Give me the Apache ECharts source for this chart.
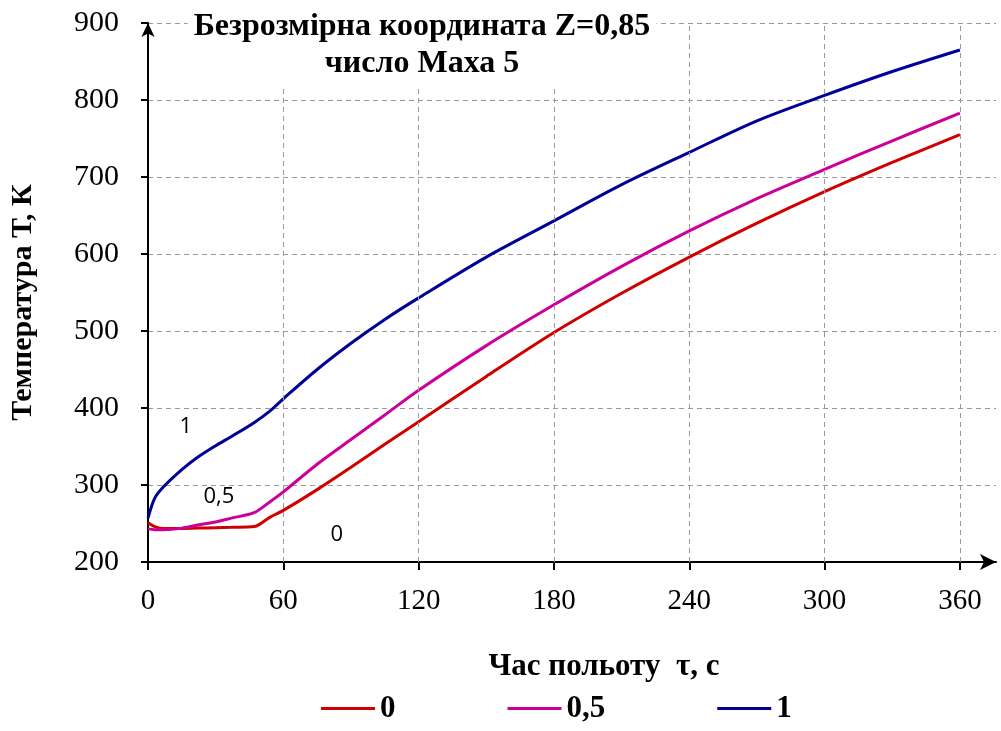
<!DOCTYPE html>
<html><head><meta charset="utf-8">
<script src="https://cdn.jsdelivr.net/npm/echarts@6/dist/echarts.min.js"></script>
<style>html,body{margin:0;padding:0;background:#fff}#c{width:1001px;height:731px}</style>
</head><body><div id="c"></div>
<script>
const timeSec = [0,3,7,15,22,30,37,47,54,60,75,90,105,120,150,180,210,240,270,300,330,360];
const seriesNames = ['0','0,5','1'];
const temp0  = [251,246,243.5,243.5,244,244.5,245,246,258,267,294,323,353,382,441,498,549,596,640,681,719,755];
const temp05 = [243,242,242,244,248,252,257,264,278,291,327,359,391,423,481,534,584,630,672,710,747,783];
const temp1  = [257,283,298,320,336,351,363,381,396,412,450,484,515,543,596,643,690,732,773,806,837,865];
const xTicks = [0,60,120,180,240,300,360];
const annotations = [
  {text:'1', t:16.8, T:376},
  {text:'0,5', t:31.4, T:285},
  {text:'0', t:83.7, T:235}
];
const titleText = 'Безрозмірна координата Z=0,85\nчисло Маха 5';
const xName = 'Час польоту  τ, с';
const yName = 'Температура Т, К';

const colors = ['#d00000','#cc0099','#000099'];
const serif = '"Liberation Serif","Times New Roman",serif';
const toPairs = arr => timeSec.map((t,i)=>[t,arr[i]]);
const allData = [temp0, temp05, temp1];

const series = allData.map((arr,i)=>({
  name: seriesNames[i], type:'line', data: toPairs(arr), symbol:'none',
  smooth:0.3,
  lineStyle:{color:colors[i], width:3}, itemStyle:{color:colors[i]}, z:3
}));
series.push({
  type:'line', data:[], silent:true, z:1,
  markLine:{silent:true, symbol:'none', label:{show:false},
    lineStyle:{color:'#9a9a9a', type:[5,4], width:1},
    data: xTicks.slice(1).map(v=>({xAxis:v}))},
  markPoint:{symbol:'circle', symbolSize:0, silent:true,
    label:{show:true, color:'#000', fontSize:22, fontFamily:'"Open Sans",sans-serif', formatter:p=>p.name},
    data: annotations.map(a=>({name:a.text, coord:[a.t,a.T]}))}
});

const chart = echarts.init(document.getElementById('c'));
chart.setOption({
  animation:false,
  title:{text:titleText, left:416, top:6, textAlign:'center',
    backgroundColor:'#fff', padding:[2,6,6,6], z:10,
    textStyle:{fontFamily:serif, fontWeight:'bold', fontSize:32, color:'#000', lineHeight:37}},
  legend:{left:316, bottom:2, itemGap:112, itemWidth:54, itemHeight:3, icon:'rect',
    textStyle:{fontFamily:serif, fontWeight:'bold', fontSize:31, color:'#000'},
    data:seriesNames},
  grid:{left:147, right:5, top:23, bottom:169},
  xAxis:{type:'value', min:0, max:376, interval:60,
    name:xName, nameLocation:'middle', nameGap:89,
    nameTextStyle:{fontFamily:serif, fontWeight:'bold', fontSize:31, color:'#000', padding:[0,0,0,64]},
    axisLine:{lineStyle:{color:'#000', width:2}, symbol:['none','arrow'], symbolSize:[12,16]},
    axisTick:{show:true, length:8, lineStyle:{color:'#000', width:2}, customValues:xTicks},
    axisLabel:{color:'#000', fontFamily:serif, fontSize:29, margin:25, customValues:xTicks},
    splitLine:{show:false}},
  yAxis:{type:'value', min:200, max:900, interval:100,
    name:yName, nameLocation:'middle', nameGap:110,
    nameTextStyle:{fontFamily:serif, fontWeight:'bold', fontSize:30, color:'#000', padding:[0,20,0,0]},
    axisLine:{show:true, lineStyle:{color:'#000', width:2}, symbol:['none','arrow'], symbolSize:[10,14]},
    axisTick:{show:true, length:7, lineStyle:{color:'#000', width:2}},
    axisLabel:{color:'#000', fontFamily:serif, fontSize:30, margin:29},
    splitLine:{show:true, lineStyle:{color:'#9a9a9a', type:[5,4], width:1}}},
  series
});
</script></body></html>
